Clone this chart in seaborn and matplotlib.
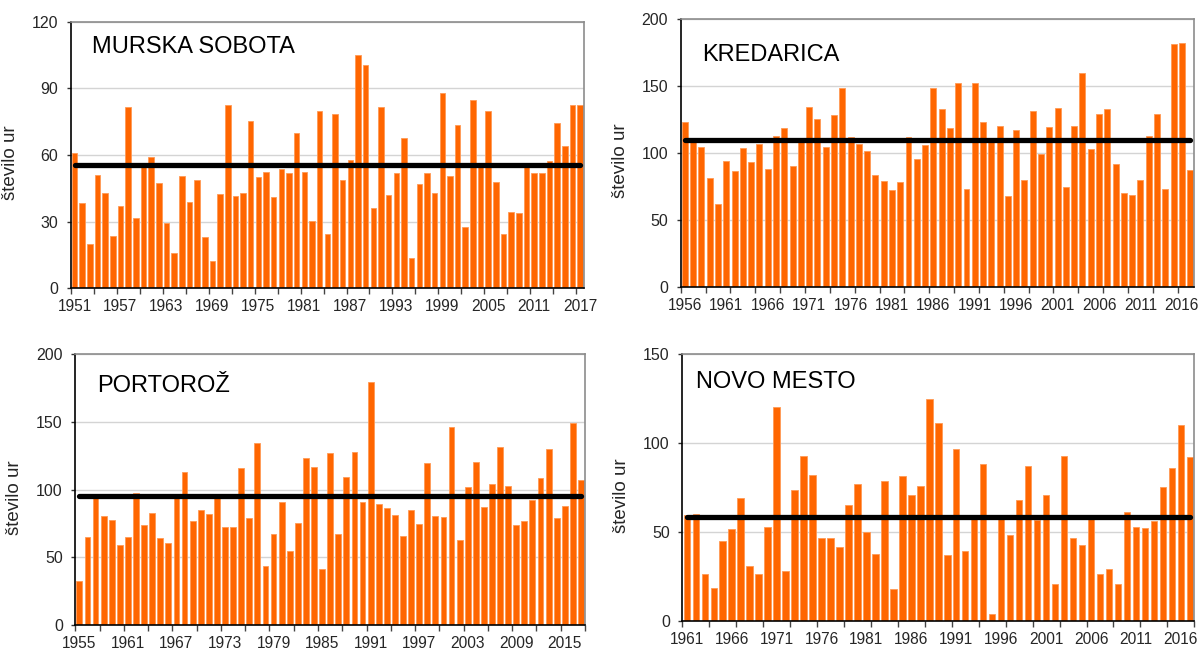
import numpy as np
import pandas as pd
import matplotlib
matplotlib.use("Agg")
import matplotlib.pyplot as plt
import seaborn as sns

# ---------------- data ----------------
ms_years = list(range(1951, 2018))
ms_vals = [61, 38.5, 20, 51, 43, 23.7, 37, 81.7, 31.8, 54.8,
           59, 47.5, 29.5, 16, 50.4, 39, 48.7, 23, 12.4, 42.6,
           82.6, 41.7, 43, 75.1, 50, 52.5, 41, 53.5, 52, 70,
           52.3, 30.3, 80, 24.6, 78.3, 48.6, 57.7, 105, 100.5, 36.3,
           81.7, 41.8, 52, 67.5, 13.8, 47, 52, 42.9, 88, 50.7,
           73.3, 27.6, 84.7, 54.5, 80, 47.7, 24.6, 34.3, 34, 55,
           51.7, 52, 57.5, 74.2, 64, 82.3, 82.5]
ms_avg = 55.3

kr_years = list(range(1956, 2018))
kr_vals = [123, 108, 104.2, 81, 61.8, 94.3, 86.3, 103.7, 93.5, 107,
           88.3, 112.7, 118.5, 90.5, 108.5, 134.7, 125.7, 104.2, 128.6, 148.5,
           111.7, 106.5, 101.5, 83.5, 79, 72, 78, 111.7, 95.8, 106.2,
           148.9, 132.9, 118.5, 152, 73, 152.4, 123.4, 109.7, 120.2, 67.8,
           117, 79.8, 131.4, 99.3, 119.7, 133.7, 74.3, 120, 159.9, 103,
           129.4, 132.9, 92, 69.8, 68.6, 79.6, 112.7, 128.9, 72.8, 181.5,
           182, 87]
kr_avg = 109.5

po_years = list(range(1955, 2018))
po_vals = [32.5, 64.7, 95.4, 80.2, 77.5, 58.8, 65, 97.2, 73.6, 82.4,
           64.2, 60.3, 94, 113.2, 76.8, 85.1, 81.9, 95.4, 72.6, 72.3,
           115.6, 79.3, 134.6, 43.8, 67.2, 90.8, 54.4, 75.3, 123.5, 116.6,
           41.1, 127.2, 66.9, 109.2, 127.4, 90.8, 179.3, 89.3, 86.1, 81.4,
           65.4, 84.9, 74.8, 119.3, 80.7, 79.5, 146.1, 62.7, 101.6, 120,
           87.1, 104.1, 131.1, 102.3, 73.6, 76.8, 92, 108.2, 130.1, 79,
           87.6, 148.8, 107]
po_avg = 95.4

nm_years = list(range(1961, 2018))
nm_vals = [59.7, 60.1, 26.6, 18.9, 45.1, 51.7, 69.5, 31.3, 26.6, 53.2,
           120.2, 28.5, 73.6, 93.1, 82.4, 47, 47, 41.5, 65.2, 77.2,
           50, 37.6, 78.8, 18, 81.5, 71, 75.8, 124.9, 111.4, 37.5,
           96.8, 39.7, 57.9, 88.2, 3.9, 57.9, 48.3, 68.4, 87.5, 56.9,
           70.8, 20.8, 93.1, 46.6, 43.1, 57.9, 26.8, 29.2, 21, 61.2,
           53, 52.4, 56.4, 75.5, 86.1, 110.1, 92.1]
nm_avg = 58.4

titles = ["MURSKA SOBOTA", "KREDARICA", "PORTOROŽ", "NOVO MESTO"]
ylabel = "število ur"

# ---------------- style ----------------
sns.set_theme(style="white")
plt.rcParams['font.family'] = ['Liberation Sans', 'DejaVu Sans']

BAR = "#FF6600"
W, H = 1202, 652
fig = plt.figure(figsize=(W / 100, H / 100), dpi=100)


def make_ax(l, r, t, b):
    return fig.add_axes([l / W, 1 - b / H, (r - l) / W, (b - t) / H])


panels = [
    dict(box=(70.7, 584, 21.7, 288.3), years=ms_years, vals=ms_vals, avg=ms_avg,
         ymax=120, ystep=30, lstep=6, title=titles[0], tx=21, ty=31.6),
    dict(box=(680.7, 1194.3, 19.3, 286.7), years=kr_years, vals=kr_vals, avg=kr_avg,
         ymax=200, ystep=50, lstep=5, title=titles[1], tx=21, ty=41.4),
    dict(box=(75.3, 585, 354, 625), years=po_years, vals=po_vals, avg=po_avg,
         ymax=200, ystep=50, lstep=6, title=titles[2], tx=22, ty=37.7),
    dict(box=(682.3, 1194.3, 354.3, 621.3), years=nm_years, vals=nm_vals, avg=nm_avg,
         ymax=150, ystep=50, lstep=5, title=titles[3], tx=13.7, ty=33.4),
]

for p in panels:
    l, r, t, b = p["box"]
    ax = make_ax(l, r, t, b)
    n = len(p["years"])
    df = pd.DataFrame({"year": [str(y) for y in p["years"]], "val": p["vals"]})
    sns.barplot(data=df, x="year", y="val", color=BAR, saturation=1, width=0.72,
                errorbar=None, ax=ax, linewidth=0.6, edgecolor="#FF9A55", zorder=2)
    ax.plot([0, n - 1], [p["avg"], p["avg"]], color="black", lw=3.8,
            solid_capstyle="round", zorder=3)
    ax.set_xlim(-0.5, n - 0.5)
    ax.set_ylim(0, p["ymax"])
    yt = np.arange(0, p["ymax"] + 1, p["ystep"])
    ax.set_yticks(yt)
    ax.set_yticklabels([str(int(v)) for v in yt], fontsize=11.5)
    ax.yaxis.grid(True, color="#d4d4d4", lw=1, zorder=0)
    ax.xaxis.grid(False)
    ax.set_axisbelow(True)

    major = list(range(0, n, p["lstep"]))
    ax.set_xticks(major)
    ax.set_xticklabels([str(p["years"][i]) for i in major], fontsize=11.2)
    ax.set_xticks(np.arange(-0.5, n, 3), minor=True)
    ax.tick_params(axis="x", which="major", length=0, pad=8)
    ax.tick_params(axis="x", which="minor", length=4, width=1, color="#444444",
                   direction="out", bottom=True)
    ax.tick_params(axis="y", which="major", length=3, width=1, color="#333333",
                   direction="out", left=True, pad=6)
    ax.set_xlabel("")
    ax.set_ylabel(ylabel, fontsize=13.5)
    ax.yaxis.set_label_coords(-52 / (r - l), 0.47)

    for side in ["left", "bottom"]:
        ax.spines[side].set_color("black")
        ax.spines[side].set_linewidth(1.2)
    for side in ["top", "right"]:
        ax.spines[side].set_color("#8c8c8c")
        ax.spines[side].set_linewidth(1.2)

    ax.text(p["tx"] / (r - l), 1 - p["ty"] / (b - t), p["title"], transform=ax.transAxes,
            fontsize=17, va="baseline", ha="left", color="black", zorder=5)

fig.savefig("out.png", dpi=100)
